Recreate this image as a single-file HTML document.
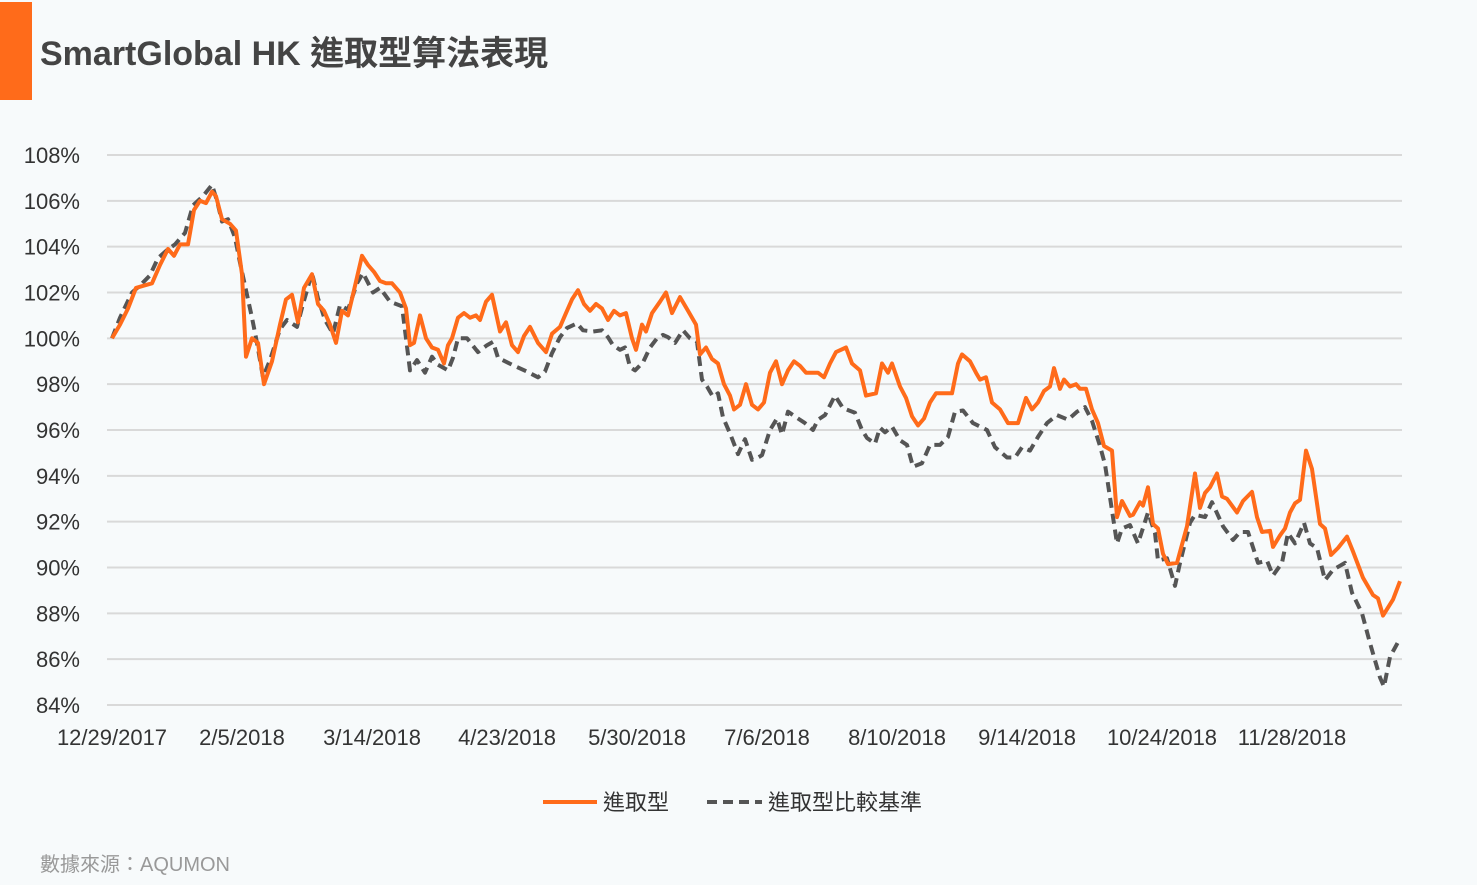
<!DOCTYPE html>
<html><head><meta charset="utf-8"><style>
body{margin:0;background:#f7fafb;}
#wrap{position:relative;width:1477px;height:885px;background:#f7fafb;overflow:hidden;font-family:"Liberation Sans","Noto Sans CJK TC",sans-serif;}
</style></head><body>
<div id="wrap">
<div style="position:absolute;left:0;top:2px;width:32px;height:98px;background:#ff6b1a"></div>
<div style="position:absolute;left:40px;top:26px;font-size:34px;font-weight:bold;color:#444;font-family:'Liberation Sans','Noto Sans CJK TC',sans-serif;">SmartGlobal HK 進取型算法表現</div>
<svg id="chart" width="1477" height="885" style="position:absolute;left:0;top:0"></svg>
<div style="position:absolute;left:40px;top:848px;font-size:20px;color:#999;">數據來源：AQUMON</div>
</div>
<script>
const yTicks=[84,86,88,90,92,94,96,98,100,102,104,106,108];
const xTickDays=[0,26,52,79,105,131,157,183,210,236];
const xTickLabels=["12/29/2017","2/5/2018","3/14/2018","4/23/2018","5/30/2018","7/6/2018","8/10/2018","9/14/2018","10/24/2018","11/28/2018"];
const orangeDays=[0,1.6,3.2,4.8,6.4,8,9.6,11.2,12.4,13.6,15.2,16.4,17.6,18.8,20,20.8,22,23.6,24.8,26,26.8,28,29.2,30.4,32,33.6,34.8,36,37.2,38.4,40,41.2,42.4,43.6,44.8,46,47.2,48.4,50,51.2,52.4,53.6,54.8,56,57.6,58.8,59.6,60.4,61.6,62.8,64,65.2,66.4,67.2,68,69.2,70.4,71.6,72.8,73.6,74.8,76,77.6,78.8,80,81.2,82.4,83.6,85.2,86.8,88,89.6,90.8,92,93.2,94.4,95.6,96.8,98,99.2,100.4,101.6,102.8,104,104.8,106,106.8,108,109.6,110.8,112,113.6,115.2,116.8,117.6,118.8,120,121.2,122.4,123.6,124.4,125.6,126.8,128,129.2,130.4,131.6,132.8,134,135.2,136.4,137.6,138.8,140,141.2,142.4,143.6,144.8,146.8,148,149.6,150.8,152.8,154,155.2,156,157.6,158.8,160,161.2,162.4,163.6,164.8,166.8,168,169.2,170,171.6,172.8,173.6,174.8,176,177.6,179.2,181.2,182.8,184,185.2,186.4,187.6,188.4,189.6,190.4,191.6,192.8,193.6,194.8,196,197.2,198.4,200,201,202,203.6,204.2,205.6,206.2,207.2,208.2,209.2,210.2,211.2,213,215,216.6,217.6,218.6,219.6,221,222,223,225,226.2,228,229,230,231.6,232.2,233.6,234.6,235.6,236.6,237.6,238.8,240,241.6,242.6,243.8,245.2,247,248.2,250.2,252.2,253.2,254.2,256.2,257.6];
const orangeValues=[100,100.6,101.3,102.2,102.3,102.4,103.2,103.9,103.6,104.1,104.1,105.6,106.0,105.9,106.4,106.2,105.2,105.0,104.7,102.8,99.2,100.0,99.8,98.0,99.0,100.6,101.7,101.9,100.7,102.2,102.8,101.5,101.2,100.6,99.8,101.2,101.0,102.1,103.6,103.2,102.9,102.5,102.4,102.4,102.0,101.3,99.7,99.8,101.0,100.0,99.6,99.5,98.9,99.7,100.0,100.9,101.1,100.9,101.0,100.8,101.6,101.9,100.3,100.7,99.7,99.4,100.1,100.5,99.8,99.4,100.2,100.5,101.1,101.7,102.1,101.5,101.2,101.5,101.3,100.8,101.2,101.0,101.1,100.0,99.5,100.6,100.3,101.1,101.6,102.0,101.1,101.8,101.2,100.6,99.3,99.6,99.1,98.9,98.0,97.5,96.9,97.1,98.0,97.1,96.9,97.2,98.5,99.0,98.0,98.6,99.0,98.8,98.5,98.5,98.5,98.3,98.9,99.4,99.6,98.9,98.6,97.5,97.6,98.9,98.5,98.9,97.9,97.4,96.6,96.2,96.5,97.2,97.6,97.6,97.6,98.9,99.3,99.0,98.5,98.2,98.3,97.2,96.9,96.3,96.3,97.4,96.9,97.2,97.7,97.9,98.7,97.8,98.2,97.9,98.0,97.8,97.8,96.9,96.3,95.3,95.1,92.2,92.9,92.25,92.3,92.85,92.7,93.5,91.9,91.7,90.6,90.15,90.2,91.8,94.1,92.6,93.25,93.5,94.1,93.1,93.0,92.4,92.9,93.3,92.2,91.55,91.6,90.9,91.4,91.7,92.4,92.8,92.95,95.1,94.3,91.9,91.7,90.55,90.85,91.35,90.7,89.55,88.8,88.65,87.9,88.6,89.4];
const benchDays=[0,1.6,4,5.6,7.6,9.2,11,12.6,14.6,16.2,18.2,20,21,22,23.2,24.6,25.6,27,28,29,30.2,31.6,33.6,35,37,38.2,40,41.2,42.6,44.2,45.6,47.2,49,50.2,52.2,53.6,55.6,58,59.6,61,62.6,64,65.2,67.2,68.2,69.2,71,73.2,75,76.2,77.2,80,83,85.2,86.6,88,89.6,91,93,94.2,96.2,98,99.2,100.2,101.6,102.6,103.6,104.6,106.2,107.6,109,110.2,111.2,112.6,114.2,115.6,117,118,119,120.2,121.2,122.2,123.6,125.2,126.6,128,129.2,130,131.6,133,134,135.2,137.2,138.6,140.2,141.2,142.6,144.6,146.2,148.6,150,151,152.6,153.6,154.6,156,157.6,159,160.2,162,163.6,165.6,167.2,168.6,170.2,172.2,175,176.6,179,180.6,182,183.6,185.2,187,189,191.2,193,194.6,196,197.6,198.6,201,202,203.6,205.2,207.2,208.6,209.2,211,212.6,213.6,215.6,216.6,218.6,220,222.2,224.2,225.6,227.2,229.2,231,232.2,234,235.2,236.6,238.4,239.6,241,242.6,244.2,246.6,248,250,251.6,253.6,254.4,255.6,257.6];
const benchValues=[100,100.9,102.0,102.3,102.75,103.5,103.85,104.1,104.6,105.8,106.2,106.7,106.0,105.1,105.2,104.4,103.3,101.9,100.9,99.8,98.3,99.05,100.4,100.8,100.5,101.5,102.85,101.75,100.8,100.2,101.45,101.25,102.4,102.85,102.0,102.2,101.6,101.4,98.6,99.05,98.5,99.2,98.85,98.6,99.15,100.0,100.0,99.4,99.7,99.85,99.15,98.85,98.55,98.3,98.55,99.35,100.05,100.45,100.65,100.35,100.3,100.35,100.05,99.7,99.5,99.6,98.75,98.6,98.95,99.6,100.0,100.15,100.05,99.8,100.35,100.0,99.85,98.2,97.9,97.45,97.6,96.55,95.85,94.95,95.6,94.7,94.8,94.9,96.0,96.5,95.8,96.8,96.5,96.3,96.0,96.45,96.65,97.5,96.95,96.75,96.0,95.65,95.4,96.1,95.9,96.15,95.55,95.35,94.4,94.55,95.35,95.35,95.7,96.8,96.85,96.3,96.0,95.25,94.8,94.8,95.25,95.1,95.7,96.3,96.65,96.45,96.8,97.0,96.4,95.3,94.5,91.05,91.7,91.85,91.05,92.4,91.5,90.3,90.4,89.2,90.2,91.95,92.3,92.2,92.85,91.8,91.2,91.55,91.55,90.2,90.3,89.65,90.2,91.5,91.05,91.95,91.05,90.85,89.45,89.9,90.2,88.9,88.0,86.7,85.2,84.8,86.1,86.9];

const NS='http://www.w3.org/2000/svg';
const svg=document.getElementById('chart');
const X0=112,X1=1400,DMAX=257.6,Y0=705,Y1=155,VMIN=84,VMAX=108;
function xs(d){return X0+(d/DMAX)*(X1-X0);}
function ys(v){return Y0-(v-VMIN)/(VMAX-VMIN)*(Y0-Y1);}
function mk(tag,attrs){const e=document.createElementNS(NS,tag);for(const k in attrs)e.setAttribute(k,attrs[k]);svg.appendChild(e);return e;}
yTicks.forEach(v=>{
  const l=mk('line',{x1:107,x2:1402,y1:ys(v),y2:ys(v),stroke:'#d9d9d9','stroke-width':2});
  
  
  const t=mk('text',{x:80,y:ys(v)+8,'text-anchor':'end','font-size':22,fill:'#333','font-family':'Liberation Sans, sans-serif'});
  t.textContent=v+'%';
  
  
});
xTickDays.forEach((d,i)=>{
  const t=mk('text',{x:xs(d),y:745,'text-anchor':'middle','font-size':22,fill:'#333','font-family':'Liberation Sans, sans-serif'});
  t.textContent=xTickLabels[i];
  
  
});
function path(days,vals){return days.map((d,i)=>(i?'L':'M')+xs(d).toFixed(1)+','+ys(vals[i]).toFixed(1)).join(' ');}
const b=mk('path',{d:path(benchDays,benchValues),fill:'none',stroke:'#555','stroke-width':4,'stroke-dasharray':'10,6','stroke-linejoin':'round'});


const o=mk('path',{d:path(orangeDays,orangeValues),fill:'none',stroke:'#ff6b1a','stroke-width':4,'stroke-linejoin':'round'});


const l1=mk('line',{x1:543,x2:597,y1:802,y2:802,stroke:'#ff6b1a','stroke-width':4});


const t1=mk('text',{x:603,y:810,'font-size':22,fill:'#333','font-family':'Liberation Sans, Noto Sans CJK TC, sans-serif'});
t1.textContent='進取型';


const l2=mk('line',{x1:707,x2:762,y1:802,y2:802,stroke:'#555','stroke-width':4,'stroke-dasharray':'10,6'});


const t2=mk('text',{x:768,y:810,'font-size':22,fill:'#333','font-family':'Liberation Sans, Noto Sans CJK TC, sans-serif'});
t2.textContent='進取型比較基準';


</script>
</body></html>
